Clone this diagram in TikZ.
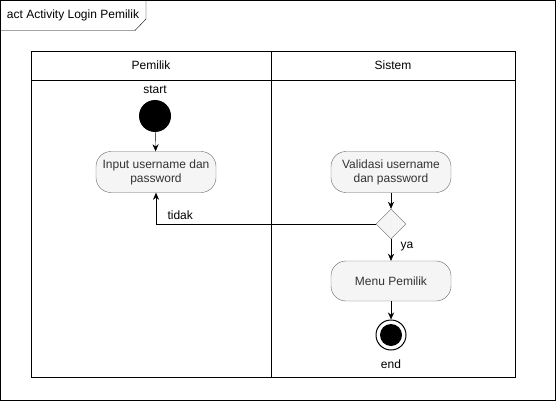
\documentclass[tikz,border=0pt]{standalone}
\usepackage{fontspec}
\setmainfont{Liberation Sans}
\usetikzlibrary{shapes.geometric,arrows.meta}
\definecolor{actfill}{HTML}{F5F5F5}
\definecolor{actline}{HTML}{666666}
\tikzset{
% Node styles for the activity diagram: actions, decision, start and end
action node/.style={rectangle,rounded corners=15pt,draw=actline,fill=actfill,text=black!80,
  minimum width=120pt,minimum height=41pt,align=center,inner sep=2pt},
decision node/.style={diamond,draw=actline,fill=actfill,minimum width=30pt,minimum height=30pt,inner sep=0pt},
start node/.style={circle,fill=black,minimum size=32pt,inner sep=0pt},
end node/.style={circle,draw,line width=1pt,fill=white,minimum size=30pt,inner sep=0pt,
  path picture={\fill[black] (path picture bounding box.center) circle (11pt);}},
flow/.style={-{Stealth[length=7pt,width=6pt]}}
}
\begin{document}
\begin{tikzpicture}[x=1pt,y=-1pt,font=\fontsize{12}{14}\selectfont]
\useasboundingbox (0,0) rectangle (556,401);
% Frame and title tab
\draw (0.5,0.5) rectangle (555.5,400.5);
\draw (0.5,30.5) -- (135,30.5) -- (146,19) -- (146,0.5);
\node(title) at (73,15){act Activity Login Pemilik};
% Swimlanes
\draw (31,51) rectangle (515,377);
\draw (31,80) -- (515,80);
\draw (271,51) -- (271,377);
\node(lane1) at (151,65){Pemilik};
\node(lane2) at (393,65){Sistem};
% Actions
\node(start)[start node,label={[label distance=3pt]above:start}] at (155,116){};
\node(input)[action node] at (156,172){Input username dan\\password};
\node(validasi)[action node] at (391,172){Validasi username\\dan password};
\node(cek)[decision node] at (391,224){};
\node(menu)[action node,minimum height=40pt] at (391,281){Menu Pemilik};
\node(end)[end node,label={[label distance=6pt]below:end}] at (391,335){};
% Flows
\draw[flow] (start) -- (input);
\draw[flow] (validasi) -- (cek);
\draw[flow] (cek) -- node[right,pos=0.35,xshift=6pt]{ya} (menu);
\draw[flow] (cek.west) -| node[above,pos=0.445,yshift=1pt]{tidak} (input.south);
\draw[flow] (menu) -- (end);
\end{tikzpicture}
\end{document}
